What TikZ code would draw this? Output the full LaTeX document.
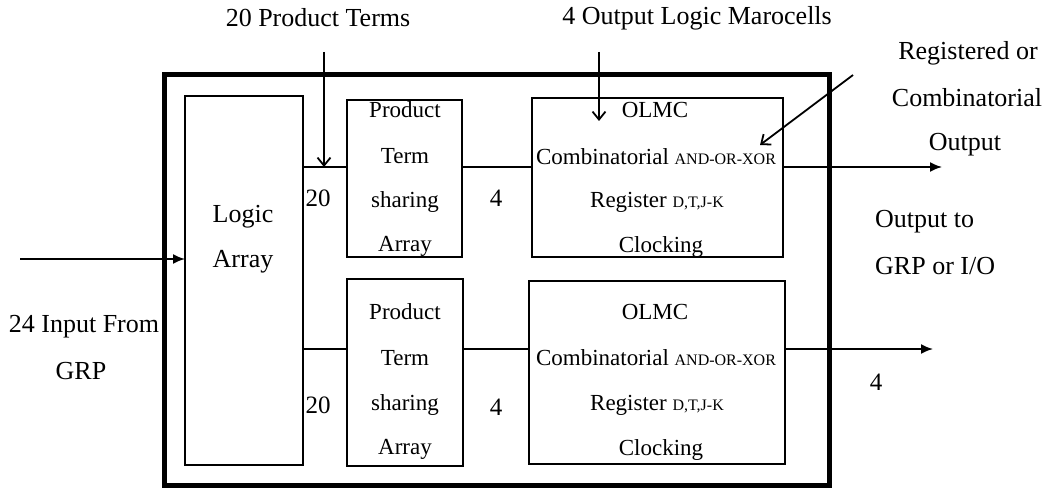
\documentclass[tikz,border=0pt]{standalone}
\usepackage{fontspec}
\setmainfont{Liberation Serif}
\usetikzlibrary{arrows.meta}
\newcommand{\sm}[1]{{\fontsize{16}{18}\selectfont #1}}
\begin{document}
\begin{tikzpicture}[x=1pt,y=-1pt,
  txt/.style={inner sep=0pt,font=\fontsize{23}{26}\selectfont},
  big/.style={inner sep=0pt,font=\fontsize{26}{30}\selectfont},
  num/.style={inner sep=0pt,font=\fontsize{25}{28}\selectfont},
  blk/.style={draw,line width=1.8pt,rectangle,inner sep=0pt},
  wire/.style={line width=1.8pt},
  fill tip/.style={wire,-{Latex[length=12pt,width=10pt]}},
  open tip/.style={wire,-{Straight Barb[length=8pt,width=13pt,line width=1.8pt]}}]
\useasboundingbox (0,0) rectangle (1057,489);

% outer device frame
\draw[line width=5pt] (164,75) rectangle (829,485);

% logic array
\node[big] (la1) at (243,217) {Logic};
\node[big] (la2) at (243,262) {Array};
\draw[blk] (185,96) rectangle (303,465);
\coordinate (laT) at (303,167);
\coordinate (laB) at (303,349);
\coordinate (laIn) at (185,259);

% product term sharing arrays
\node[txt] (p1) at (405,110) {Product};
\node[txt] (p2) at (405,156) {Term};
\node[txt] (p3) at (405,202) {sharing};
\node[txt] (p4) at (405,246) {Array};
\node[blk,minimum width=115pt,minimum height=157pt] (ptT) at (404.5,178.5) {};
\node[txt] (q1) at (405,312) {Product};
\node[txt] (q2) at (405,358) {Term};
\node[txt] (q3) at (405,405) {sharing};
\node[txt] (q4) at (405,449) {Array};
\node[blk,minimum width=116pt,minimum height=187pt] (ptB) at (405,372.5) {};

% output logic macrocells
\node[txt] (o1) at (655,110) {OLMC};
\node[txt] (o2) at (656,157) {Combinatorial \sm{AND-OR-XOR}};
\node[txt] (o3) at (657,202) {Register \sm{D,T,J-K}};
\node[txt] (o4) at (661,247) {Clocking};
\node[blk,minimum width=251pt,minimum height=159pt] (olT) at (657.5,177.5) {};
\node[txt] (r1) at (655,312) {OLMC};
\node[txt] (r2) at (656,358) {Combinatorial \sm{AND-OR-XOR}};
\node[txt] (r3) at (657,405) {Register \sm{D,T,J-K}};
\node[txt] (r4) at (661,450) {Clocking};
\node[blk,minimum width=256pt,minimum height=183pt] (olB) at (657,372.5) {};

% internal wiring
\draw[wire] (laT) -- (ptT.west |- laT);
\draw[wire] (ptT.east |- laT) -- (olT.west |- laT);
\draw[wire] (laB) -- (ptB.west |- laB);
\draw[wire] (ptB.east |- laB) -- (olB.west |- laB);
\coordinate (outT) at (942,167);
\coordinate (outB) at (933,349);
\draw[fill tip] (olT.east |- outT) -- (outT);
\draw[fill tip] (olB.east |- outB) -- (outB);

% bus widths
\node[num] (w1) at (318,198) {20};
\node[num] (w2) at (496,198) {4};
\node[num] (w3) at (318,405) {20};
\node[num] (w4) at (496,407) {4};
\node[num] (w5) at (876,382) {4};

% input
\coordinate (inL) at (20,259);
\draw[fill tip] (inL) -- (laIn);
\node[big] (in1) at (84,327) {24 Input From};
\node[big] (in2) at (81,371) {GRP};

% annotations
\node[big] (a1) at (318,18) {20 Product Terms};
\node[big,anchor=east] (a2) at (832,18) {4 Output Logic Marocells};
\node[big] (a3) at (968,53) {Registered or};
\node[big] (a4) at (967,98) {Combinatorial};
\node[big] (a5) at (965,145) {Output};
\node[big,anchor=west] (a6) at (875,222) {Output to};
\node[big,anchor=west] (a7) at (875,266) {GRP or I/O};

\coordinate (d1) at (324,52);
\coordinate (d1t) at (324,167);
\draw[open tip] (d1) -- (d1t);
\coordinate (d2) at (599,52);
\coordinate (d2t) at (599,121);
\draw[open tip] (d2) -- (d2t);
\coordinate (d3) at (853,75);
\coordinate (d3t) at (760,145);
\draw[open tip] (d3) -- (d3t);
\end{tikzpicture}
\end{document}
